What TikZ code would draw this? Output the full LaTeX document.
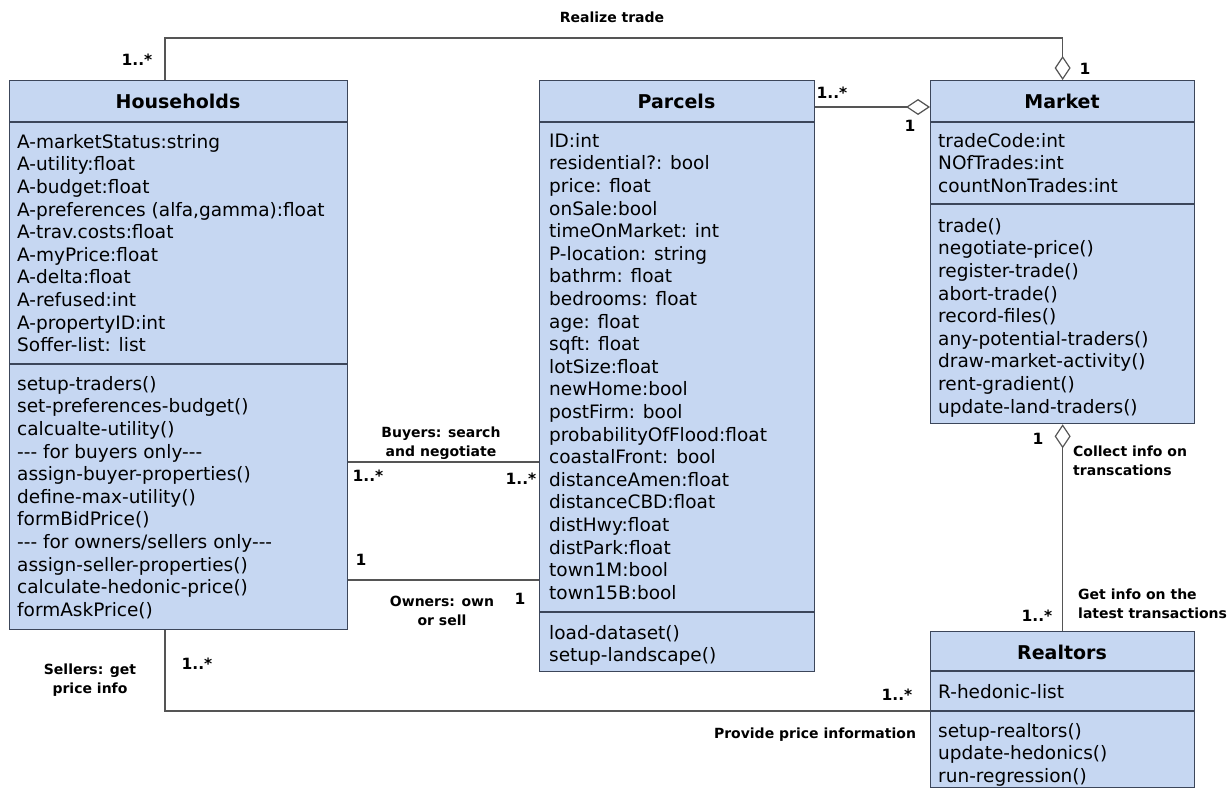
\documentclass[tikz,border=0pt]{standalone}
\usepackage{fontspec}
\setmainfont{DejaVu Sans}
\usetikzlibrary{arrows.meta}
\definecolor{boxfill}{RGB}{198,215,242}
\definecolor{boxline}{RGB}{60,70,90}
\definecolor{conncol}{RGB}{85,85,85}
\begin{document}
\begin{tikzpicture}[x=1pt,y=-1pt,
  umlbox/.style={draw=boxline, line width=1.3pt, fill=boxfill, inner sep=0pt, anchor=north west},
  divider/.style={draw=boxline, line width=1.3pt},
  ttl/.style={font=\fontsize{19}{22}\selectfont\bfseries, anchor=center, inner sep=0pt},
  body/.style={font=\fontsize{18.5}{22.6}\selectfont, align=left, anchor=north west, inner sep=0pt},
  lbl/.style={font=\fontsize{14}{19}\selectfont\bfseries, align=center, inner sep=0pt},
  mult/.style={font=\fontsize{15.5}{18}\selectfont\bfseries, inner sep=0pt},
  conn/.style={draw=conncol, line width=1.3pt},
  agg/.style={-{Diamond[length=24pt, width=16pt, fill=white, line width=1.2pt]}},
  aggstart/.style={{Diamond[length=24pt, width=16pt, fill=white, line width=1.2pt]}-}
]
\useasboundingbox (0,0) rectangle (1227,789);

% ---------- boxes ----------
\node[umlbox, minimum width=338pt, minimum height=549pt] (hh) at (9,80) {};
\node[umlbox, minimum width=275pt, minimum height=591pt] (pc) at (539,80) {};
\node[umlbox, minimum width=264pt, minimum height=343pt] (mk) at (930,80) {};
\node[umlbox, minimum width=264pt, minimum height=156pt] (rt) at (930,631) {};

% dividers
\draw[divider] ([yshift=-42pt]hh.north west) -- ([yshift=-42pt]hh.north east);
\draw[divider] ([yshift=-284pt]hh.north west) -- ([yshift=-284pt]hh.north east);
\draw[divider] ([yshift=-42pt]pc.north west) -- ([yshift=-42pt]pc.north east);
\draw[divider] ([yshift=-532pt]pc.north west) -- ([yshift=-532pt]pc.north east);
\draw[divider] ([yshift=-42pt]mk.north west) -- ([yshift=-42pt]mk.north east);
\draw[divider] ([yshift=-124pt]mk.north west) -- ([yshift=-124pt]mk.north east);
\draw[divider] ([yshift=-40pt]rt.north west) -- ([yshift=-40pt]rt.north east);
\draw[divider] ([yshift=-80pt]rt.north west) -- ([yshift=-80pt]rt.north east);

% ---------- Households ----------
\node[ttl] (hhT) at (178,101) {Households};
\node[body] (hhA) at (17,132.2) {\strut A-marketStatus:string\\A-utility:float\\A-budget:float\\A-preferences (alfa,gamma):float\\A-trav.costs:float\\A-myPrice:float\\A-delta:float\\A-refused:int\\A-propertyID:int\\Soffer-list: list};
\node[body] (hhM) at (17,374.2) {\strut setup-traders()\\set-preferences-budget()\\calcualte-utility()\\-{}-{}- for buyers only-{}-{}-\\assign-buyer-properties()\\define-max-utility()\\formBidPrice()\\-{}-{}- for owners/sellers only-{}-{}-\\assign-seller-properties()\\calculate-hedonic-price()\\formAskPrice()};

% ---------- Parcels ----------
\node[ttl] (pcT) at (676.5,101) {Parcels};
\node[body] (pcA) at (549,131.2) {\strut ID:int\\residential?: bool\\price: float\\onSale:bool\\timeOnMarket: int\\P-location: string\\bathrm: float\\bedrooms: float\\age: float\\sqft: float\\lotSize:float\\newHome:bool\\postFirm: bool\\probabilityOfFlood:float\\coastalFront: bool\\distanceAmen:float\\distanceCBD:float\\distHwy:float\\distPark:float\\town1M:bool\\town15B:bool};
\node[body] (pcM) at (549,623.2) {\strut load-dataset()\\setup-landscape()};

% ---------- Market ----------
\node[ttl] (mkT) at (1062,101) {Market};
\node[body] (mkA) at (938,131.2) {\strut tradeCode:int\\NOfTrades:int\\countNonTrades:int};
\node[body] (mkM) at (938,216.2) {\strut trade()\\negotiate-price()\\register-trade()\\abort-trade()\\record-files()\\any-potential-traders()\\draw-market-activity()\\rent-gradient()\\update-land-traders()};

% ---------- Realtors ----------
\node[ttl] (rtT) at (1062,652) {Realtors};
\node[body] (rtA) at (938,682.2) {\strut R-hedonic-list};
\node[body] (rtM) at (938,721.2) {\strut setup-realtors()\\update-hedonics()\\run-regression()};

% ---------- connectors ----------
\coordinate (yA) at (0,38);
\coordinate (yB) at (0,107);
\coordinate (yBuy) at (0,462);
\coordinate (yOwn) at (0,580);
\coordinate (ySell) at (0,711);
\coordinate (hhtop) at ([xshift=156pt]hh.north west);
\coordinate (hhbot) at ([xshift=156pt]hh.south west);

\draw[conn, agg] (hhtop) -- (hhtop |- yA) -| (mk.north);
\draw[conn, agg] (pc.east |- yB) -- (mk.west |- yB);
\draw[conn, aggstart] (mk.south) -- (rt.north);
\draw[conn] (hh.east |- yBuy) -- (pc.west |- yBuy);
\draw[conn] (hh.east |- yOwn) -- (pc.west |- yOwn);
\draw[conn] (hhbot) |- (rt.west |- ySell);

% ---------- labels ----------
\node[lbl] (lRealize) at (612,17) {Realize trade};
\node[mult] (m1) at (137,60) {1..*};
\node[mult] (m2) at (1085,69) {1};
\node[mult] (m3) at (832,93) {1..*};
\node[mult] (m4) at (910,126) {1};
\node[mult] (m5) at (1038,439) {1};
\node[lbl, align=left, anchor=west] (lCollect) at (1073,461) {Collect info on\\transcations};
\node[lbl, align=left, anchor=west] (lGet) at (1078,604) {Get info on the\\latest transactions};
\node[mult] (m6) at (1037,616) {1..*};
\node[mult] (m7) at (897,695) {1..*};
\node[lbl] (lProvide) at (815,735) {Provide price information};
\node[lbl] (lSellers) at (90,680) {Sellers: get\\price info};
\node[mult] (m8) at (197,664) {1..*};
\node[lbl] (lBuyers) at (441,443) {Buyers: search\\and negotiate};
\node[mult] (m9) at (368,476) {1..*};
\node[mult] (m10) at (521,479) {1..*};
\node[mult] (m11) at (361,560) {1};
\node[lbl] (lOwners) at (442,611) {Owners: own\\or sell};
\node[mult] (m12) at (520,599) {1};
\end{tikzpicture}
\end{document}
